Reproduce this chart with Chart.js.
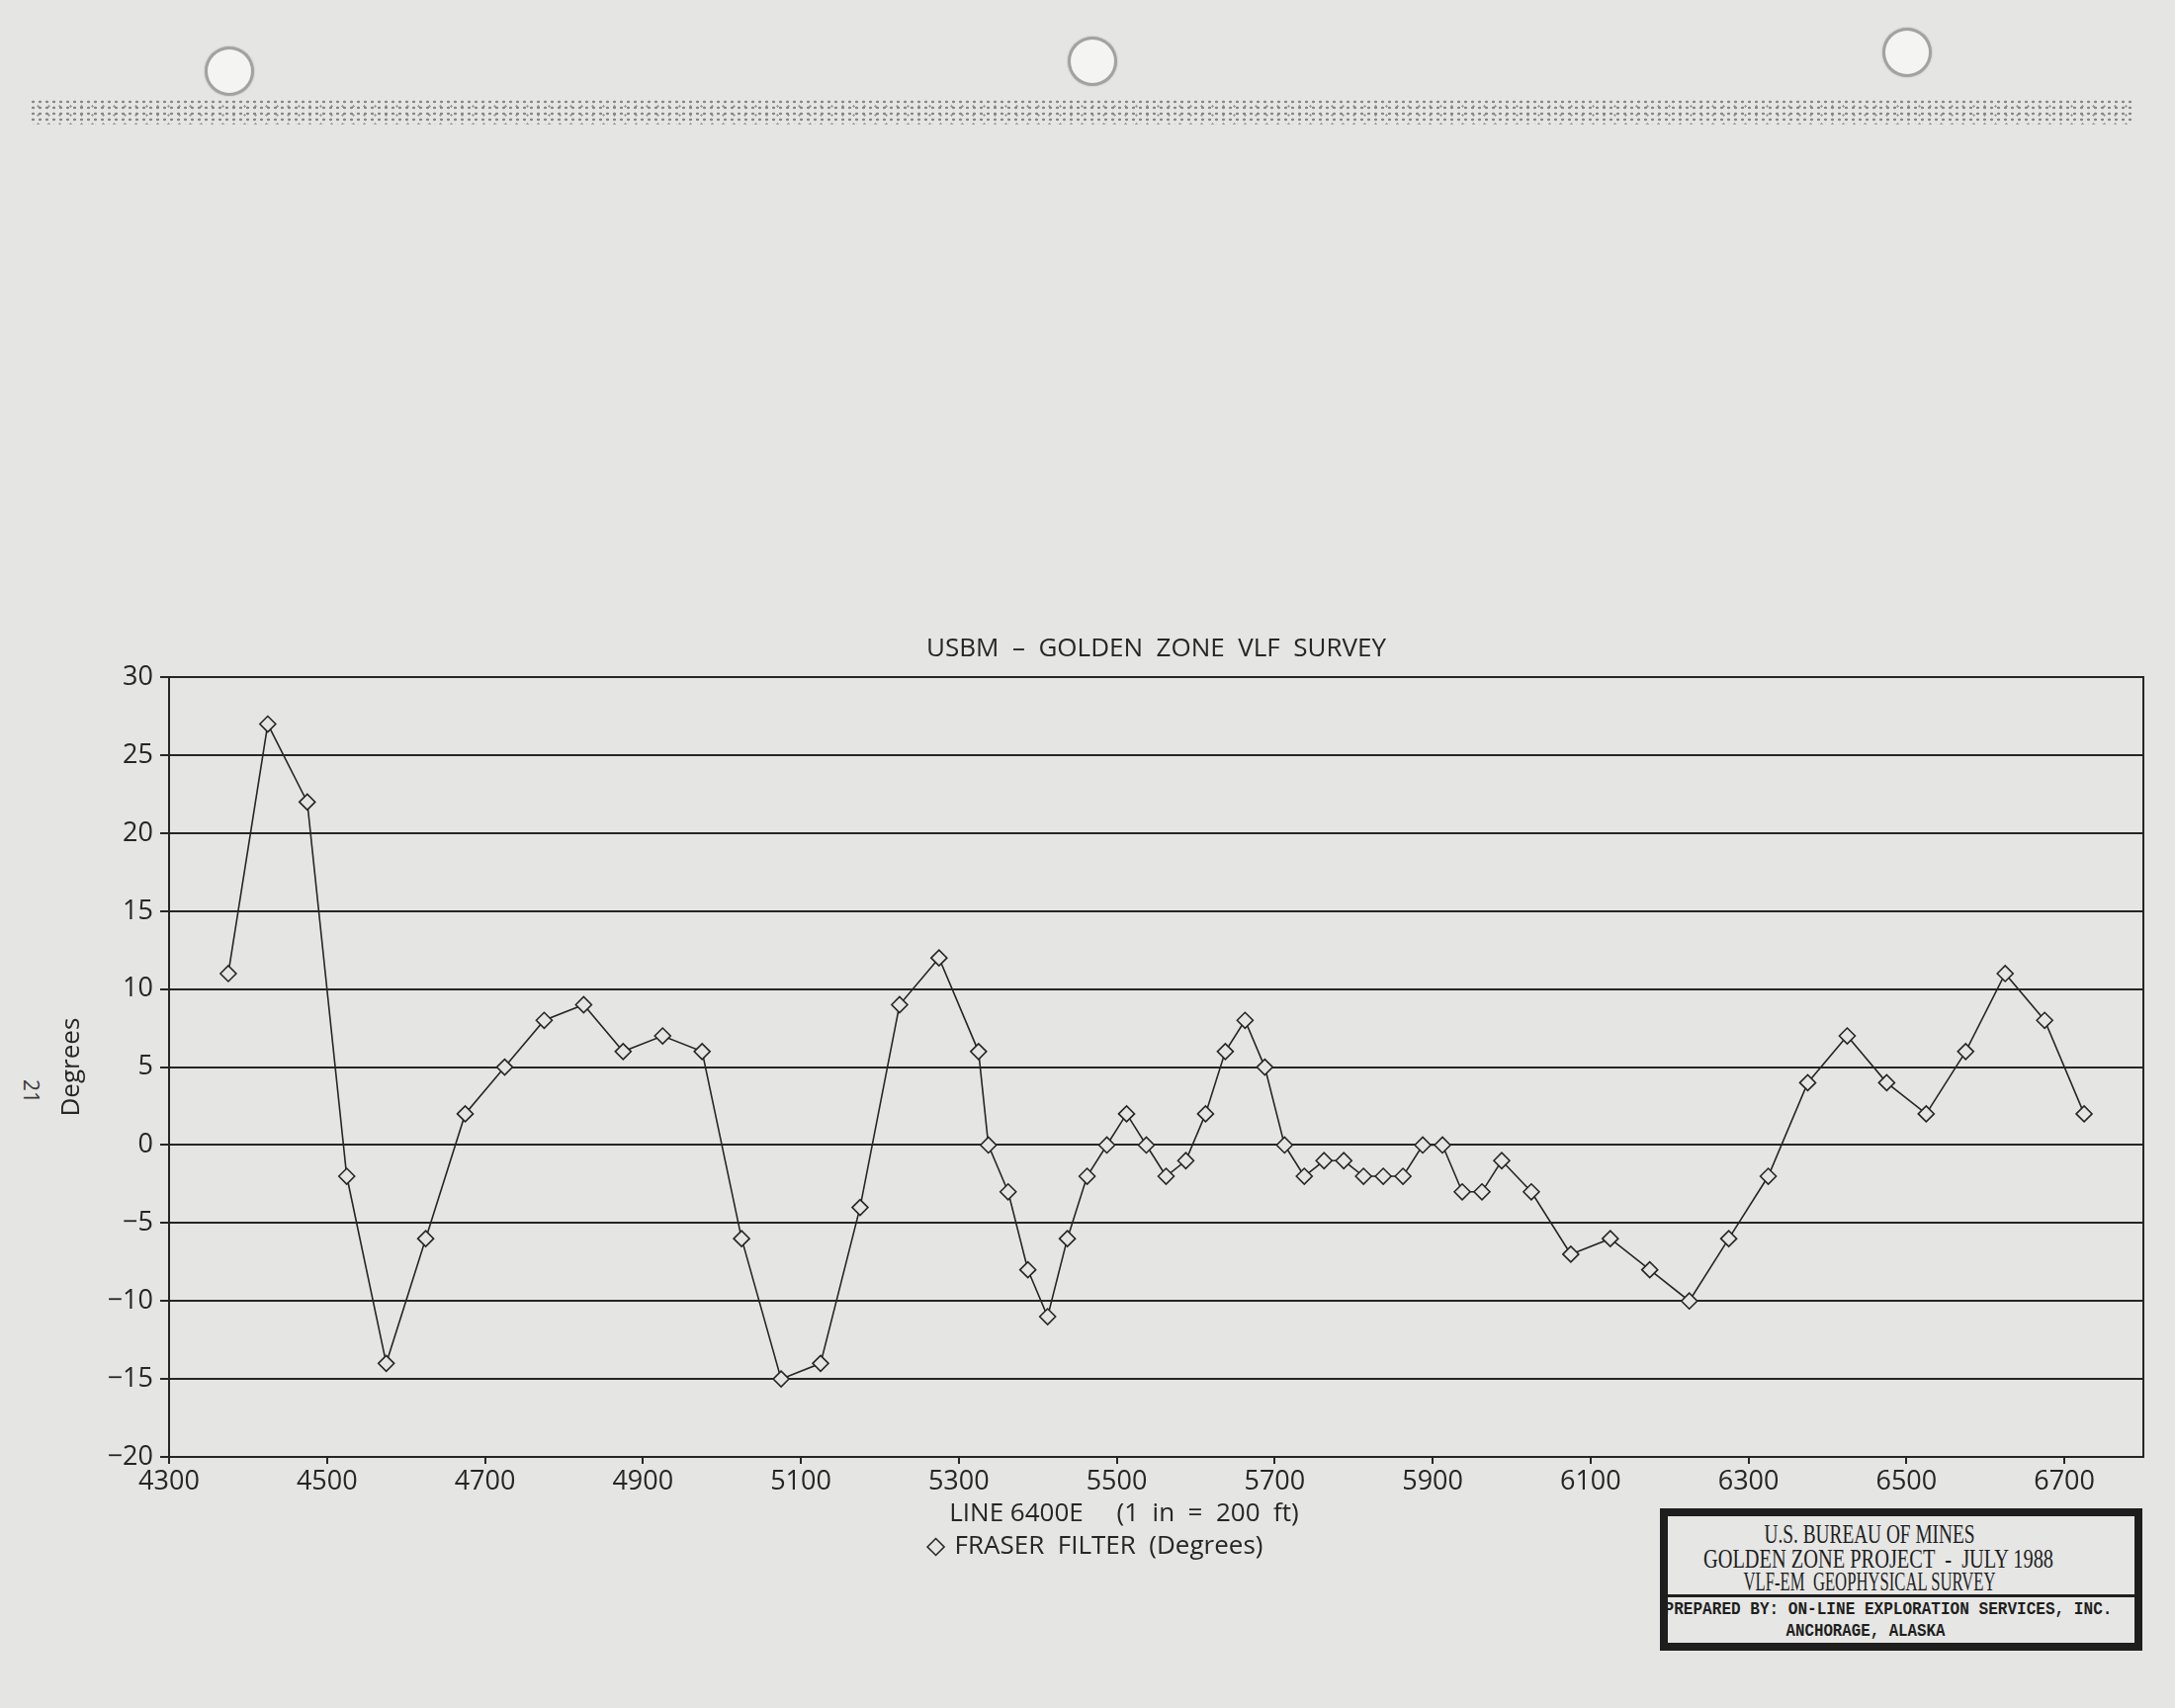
<!DOCTYPE html>
<html>
<head>
<meta charset="utf-8">
<title>USBM - Golden Zone VLF Survey</title>
<script src="https://cdn.jsdelivr.net/npm/chart.js@4.4.1/dist/chart.umd.min.js"></script>
<style>
  html, body { margin: 0; padding: 0; }
  body {
    width: 2200px; height: 1728px; position: relative; overflow: hidden;
    background: #e5e5e3; color: #262626; font-family: 'Open Sans', sans-serif;
  }
  #vlfChart { position: absolute; left: 0; top: 0; }
  .hole {
    position: absolute; width: 44px; height: 44px; border-radius: 50%;
    background: #f4f4f3; border: 3px solid rgba(95,95,95,0.55);
    box-shadow: 0 0 2px rgba(0,0,0,0.25);
  }
  .band {
    position: absolute; left: 30px; top: 100px; width: 2130px; height: 26px; opacity: 0.6;
    background:
      radial-gradient(circle, rgba(40,40,40,0.8) 0 1.2px, transparent 1.6px) 0 0 / 7px 6px,
      radial-gradient(circle, rgba(40,40,40,0.6) 0 1px, transparent 1.4px) 3px 3px / 11px 9px;
  }
  .pagenum {
    position: absolute; left: 20px; top: 1090px; font-size: 21px; color: #3a3a3a;
    transform: rotate(90deg);
  }
  #titleblock {
    position: absolute; left: 1679px; top: 1526px; width: 488px; height: 144px;
    box-sizing: border-box; border: 8px solid #1e1e1e; background: #e6e6e4;
  }
  #titleblock .rule { position: absolute; left: 0; right: 0; top: 79px; height: 3px; background: #1e1e1e; }
  #titleblock .ln {
    position: absolute; white-space: nowrap; transform-origin: center;
    font-family: 'Liberation Serif', serif; font-size: 27px; line-height: 1; color: #1e1e1e;
  }
  #titleblock .mono { font-family: 'Liberation Mono', monospace; font-weight: bold; font-size: 19px; }
</style>
</head>
<body>
<div class="hole" style="left:207px; top:47px;"></div>
<div class="hole" style="left:1080px; top:37px;"></div>
<div class="hole" style="left:1904px; top:28px;"></div>
<div class="band"></div>
<div class="pagenum">21</div>

<canvas id="vlfChart" width="2200" height="1728"></canvas>

<div id="titleblock">
  <div class="ln" data-cx="204" data-cy="18" data-w="213">U.S. BUREAU OF MINES</div>
  <div class="ln" data-cx="213" data-cy="43" data-w="354">GOLDEN ZONE PROJECT &nbsp;- &nbsp;JULY 1988</div>
  <div class="ln" data-cx="204" data-cy="66" data-w="255">VLF-EM &nbsp;GEOPHYSICAL SURVEY</div>
  <div class="rule"></div>
  <div class="ln mono" data-cx="223" data-cy="94" data-w="453">PREPARED BY: ON-LINE EXPLORATION SERVICES, INC.</div>
  <div class="ln mono" data-cx="200" data-cy="116" data-w="161">ANCHORAGE, ALASKA</div>
</div>

<script>
// station (ft) along line 6400E
const stations = [
  4375, 4425, 4475, 4525, 4575, 4625, 4675, 4725, 4775, 4825,
  4875, 4925, 4975, 5025, 5075, 5125, 5175, 5225, 5275, 5325,
  5337.5, 5362.5, 5387.5, 5412.5, 5437.5, 5462.5, 5487.5, 5512.5, 5537.5, 5562.5,
  5587.5, 5612.5, 5637.5, 5662.5, 5687.5, 5712.5, 5737.5, 5762.5, 5787.5, 5812.5,
  5837.5, 5862.5, 5887.5, 5912.5, 5937.5, 5962.5, 5987.5, 6025, 6075, 6125,
  6175, 6225, 6275, 6325, 6375, 6425, 6475, 6525, 6575, 6625,
  6675, 6725
];

// fraser filter (degrees)
const fraserDegrees = [
  11, 27, 22, -2, -14, -6, 2, 5, 8, 9,
  6, 7, 6, -6, -15, -14, -4, 9, 12, 6,
  0, -3, -8, -11, -6, -2, 0, 2, 0, -2,
  -1, 2, 6, 8, 5, 0, -2, -1, -1, -2,
  -2, -2, 0, 0, -3, -3, -1, -3, -7, -6,
  -8, -10, -6, -2, 4, 7, 4, 2, 6, 11,
  8, 2
];

const xTickValues = [4300, 4500, 4700, 4900, 5100, 5300, 5500, 5700, 5900, 6100, 6300, 6500, 6700];

const ink = '#262626';
const paper = '#e5e5e3';
const family = "'Open Sans', sans-serif";

function montarGrafico() {
    new Chart(document.getElementById('vlfChart'), {
        type: 'line',
        data: {
            datasets: [{
                label: 'FRASER  FILTER  (Degrees)',
                data: stations.map((x, i) => ({ x, y: fraserDegrees[i] })),
                borderColor: ink,
                borderWidth: 1.6,
                tension: 0,
                fill: false,
                pointStyle: 'rectRot',
                pointRadius: 8,
                pointBorderWidth: 1.6,
                pointBorderColor: ink,
                pointBackgroundColor: paper
            }]
        },
        options: {
            responsive: false,
            animation: false,
            layout: { padding: { left: 50, right: 32, top: 0, bottom: 140 } },
            plugins: {
                title: {
                    display: true,
                    text: 'USBM  –  GOLDEN  ZONE  VLF  SURVEY',
                    fullSize: false,
                    color: ink,
                    font: { family, size: 26, weight: 'normal' },
                    padding: { top: 641, bottom: 13 }
                },
                legend: {
                    position: 'bottom',
                    labels: {
                        usePointStyle: true,
                        boxWidth: 12,
                        boxHeight: 12,
                        padding: 6,
                        color: ink,
                        font: { family, size: 26 }
                    }
                },
                tooltip: { enabled: false }
            },
            scales: {
                x: {
                    type: 'linear',
                    min: 4300,
                    max: 6800,
                    afterBuildTicks: (scale) => { scale.ticks = xTickValues.map(v => ({ value: v })); },
                    afterFit: (scale) => { scale.height = 72; },
                    grid: { drawOnChartArea: false, drawTicks: true, tickLength: 7, color: ink, lineWidth: 2 },
                    border: { color: ink, width: 2 },
                    ticks: {
                        padding: 2, color: ink, autoSkip: false, maxRotation: 0,
                        font: { family, size: 27 },
                        callback: (v) => String(v)
                    },
                    title: {
                        display: true,
                        text: 'LINE 6400E     (1  in  =  200  ft)' + '\u2002'.repeat(5),
                        color: ink,
                        font: { family, size: 26, lineHeight: 1 },
                        padding: { top: 0, bottom: 1 }
                    }
                },
                y: {
                    min: -20,
                    max: 30,
                    afterFit: (scale) => { scale.width = 121; },
                    grid: { color: ink, lineWidth: 2, tickLength: 9 },
                    border: { color: ink, width: 2 },
                    ticks: {
                        stepSize: 5, padding: 7, color: ink,
                        font: { family, size: 27 },
                        callback: (v) => v < 0 ? '\u2212' + (-v) : String(v)
                    },
                    title: {
                        display: true,
                        text: 'Degrees',
                        color: ink,
                        font: { family, size: 26 },
                        padding: { top: 7, bottom: 0 }
                    }
                },
                y2: {
                    position: 'right',
                    min: -20,
                    max: 30,
                    afterFit: (scale) => { scale.width = 0; },
                    ticks: { display: false },
                    grid: { drawOnChartArea: false, drawTicks: false },
                    border: { color: ink, width: 2 }
                }
            }
        }
    });
}

function ajustarCarimbo() {
    document.querySelectorAll('#titleblock .ln').forEach(el => {
        const s = Number(el.dataset.w) / el.offsetWidth;
        el.style.left = el.dataset.cx + 'px';
        el.style.top = el.dataset.cy + 'px';
        el.style.transform = `translate(-50%, -50%) scaleX(${s.toFixed(3)})`;
    });
}

document.addEventListener('DOMContentLoaded', () => {
    montarGrafico();
    ajustarCarimbo();
});
</script>
</body>
</html>
